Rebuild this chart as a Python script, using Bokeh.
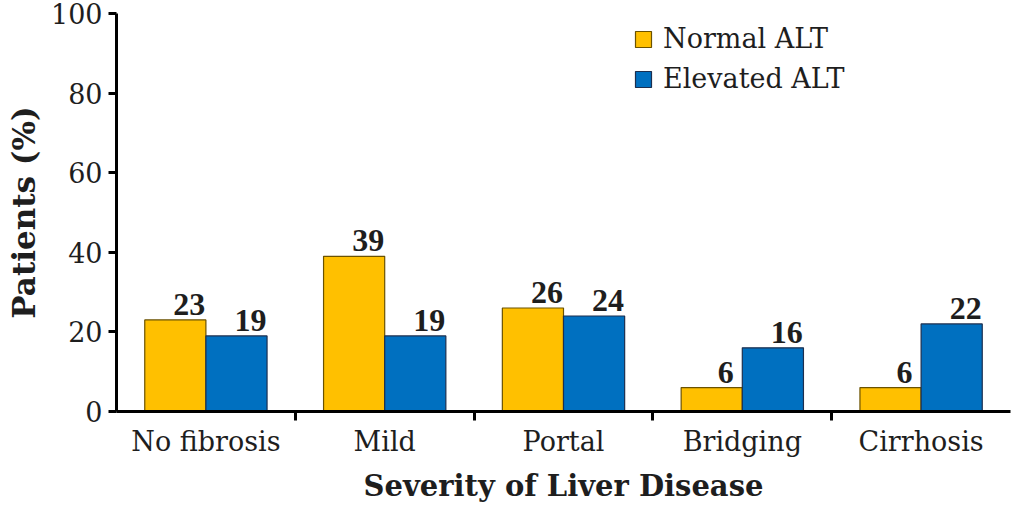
import numpy as np
from bokeh.plotting import figure
from bokeh.models import (ColumnDataSource, Range1d, FixedTicker, LabelSet,
                          Legend, LegendItem)
from bokeh.embed import file_html
from bokeh.resources import INLINE

# Fibrosis stage vs. share of patients, by ALT status
categories = ["No fibrosis", "Mild", "Portal", "Bridging", "Cirrhosis"]
normal_alt = [23, 39, 26, 6, 6]
elevated_alt = [19, 19, 24, 16, 22]
y_ticks = [0, 20, 40, 60, 80, 100]

FONT = "DejaVu Serif"
TEXT = "#1e1e1e"
YELLOW, YELLOW_EDGE = "#FFC000", "#6b5200"
BLUE, BLUE_EDGE = "#0070C0", "#1c2f4f"

n = len(categories)
centers = np.arange(n) + 0.5
bar_w = 0.342
src = ColumnDataSource(dict(
    xn=centers - bar_w / 2, xe=centers + bar_w / 2,
    normal=normal_alt, elevated=elevated_alt,
    ln=[str(v) for v in normal_alt], le=[str(v) for v in elevated_alt],
))

p = figure(width=1014, height=505, output_backend="svg", toolbar_location=None,
           x_range=Range1d(0, n), y_range=Range1d(0, 100),
           min_border_left=116, min_border_top=13, min_border_bottom=10,
           min_border_right=4)
p.outline_line_color = None
p.grid.visible = False
p.background_fill_color = "white"

rn = p.vbar(x="xn", top="normal", width=bar_w, source=src, fill_color=YELLOW,
            line_color=YELLOW_EDGE, line_width=1.2)
re = p.vbar(x="xe", top="elevated", width=bar_w, source=src, fill_color=BLUE,
            line_color=BLUE_EDGE, line_width=1.2)

for xcol, ycol, lcol in (("xn", "normal", "ln"), ("xe", "elevated", "le")):
    p.add_layout(LabelSet(x=xcol, y=ycol, text=lcol, source=src,
                          x_offset=14, y_offset=5, text_align="center",
                          text_baseline="bottom", text_font=FONT,
                          text_font_size="32px", text_font_style="bold",
                          text_color=TEXT))

# y axis
ya = p.yaxis[0]
ya.ticker = FixedTicker(ticks=y_ticks)
ya.axis_label = "Patients (%)"
ya.axis_label_text_font = FONT
ya.axis_label_text_font_size = "31px"
ya.axis_label_text_font_style = "bold"
ya.axis_label_text_color = TEXT
ya.axis_label_standoff = 6
ya.major_label_text_font = FONT
ya.major_label_text_font_size = "27px"
ya.major_label_text_color = TEXT
ya.axis_line_width = 3
ya.axis_line_color = "black"
ya.major_tick_line_width = 3
ya.major_tick_out = 8
ya.major_tick_in = 0
ya.minor_tick_line_color = None
ya.major_label_standoff = 6

# x axis: labels at group centres, ticks at group boundaries
xa = p.xaxis[0]
xa.ticker = FixedTicker(ticks=list(centers), minor_ticks=list(range(1, n)))
xa.major_label_overrides = {float(c): lab for c, lab in zip(centers, categories)}
xa.axis_label = "Severity of Liver Disease"
xa.axis_label_text_font = FONT
xa.axis_label_text_font_size = "29px"
xa.axis_label_text_font_style = "bold"
xa.axis_label_text_color = TEXT
xa.axis_label_standoff = 9
xa.major_label_text_font = FONT
xa.major_label_text_font_size = "27px"
xa.major_label_text_color = TEXT
xa.major_label_standoff = 5
xa.axis_line_width = 3
xa.axis_line_color = "black"
xa.major_tick_line_color = None
xa.major_tick_out = 0
xa.minor_tick_line_width = 3
xa.minor_tick_line_color = "black"
xa.minor_tick_out = 9
xa.minor_tick_in = 0

legend = Legend(items=[LegendItem(label="Normal ALT", renderers=[rn]),
                       LegendItem(label="Elevated ALT", renderers=[re])],
                location=(517, 317), orientation="vertical")
legend.background_fill_alpha = 0
legend.border_line_color = None
legend.label_text_font = FONT
legend.label_text_font_size = "27px"
legend.label_text_color = TEXT
legend.glyph_width = 20
legend.glyph_height = 20
legend.label_standoff = 10
legend.spacing = 9
legend.padding = 0
legend.margin = 0
p.add_layout(legend, "center")

open("out.html", "w").write(file_html(p, INLINE))
